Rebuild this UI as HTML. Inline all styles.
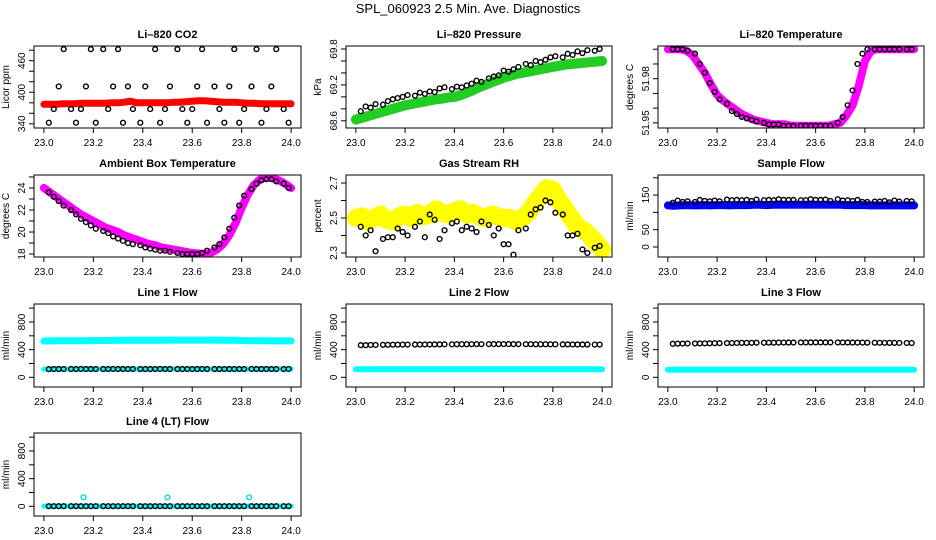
<!DOCTYPE html>
<html><head><meta charset="utf-8"><style>
body{margin:0;background:#fff}
svg{display:block;font-family:"Liberation Sans",sans-serif}
</style></head><body>
<svg id="chart" width="936" height="540" viewBox="0 0 936 540" xmlns="http://www.w3.org/2000/svg">
<text x="468" y="13" text-anchor="middle" font-size="13">SPL_060923  2.5 Min. Ave. Diagnostics</text>
</svg>
<script>
// shared x grids
const bandX = [23.0,23.025,23.05,23.075,23.1,23.125,23.15,23.175,23.2,23.225,23.25,23.275,23.3,23.325,23.35,23.375,23.4,23.425,23.45,23.475,23.5,23.525,23.55,23.575,23.6,23.625,23.65,23.675,23.7,23.725,23.75,23.775,23.8,23.825,23.85,23.875,23.9,23.925,23.95,23.975,24.0];
const ptX = [23.02,23.04,23.06,23.08,23.11,23.13,23.15,23.17,23.19,23.21,23.24,23.26,23.28,23.30,23.32,23.34,23.36,23.39,23.41,23.43,23.45,23.47,23.49,23.51,23.54,23.56,23.58,23.60,23.62,23.64,23.66,23.69,23.71,23.73,23.75,23.77,23.79,23.81,23.84,23.86,23.88,23.90,23.92,23.94,23.97,23.99];
const xTicks = [23.0,23.2,23.4,23.6,23.8,24.0];
const xTickLabels = ["23.0","23.2","23.4","23.6","23.8","24.0"];

const co2Band = [377,377,377,378,378,378,379,379,379,379,379,380,380,381,383,380,380,380,380,380,380,381,381,382,383,384,384,383,382,381,381,381,380,379,379,378,378,378,378,378,378];
const co2Pts = [342,368,411,482,368,342,368,411,482,342,482,368,411,482,342,411,368,342,411,368,482,342,368,411,482,368,342,368,411,482,342,411,368,342,411,482,342,368,411,482,342,368,411,482,368,342];
const presBand = [68.62,68.65,68.68,68.71,68.74,68.77,68.80,68.83,68.86,68.88,68.90,68.92,68.94,68.96,68.97,68.99,69.00,69.03,69.07,69.11,69.16,69.20,69.24,69.28,69.32,69.35,69.38,69.40,69.42,69.44,69.46,69.48,69.50,69.52,69.54,69.55,69.56,69.57,69.58,69.59,69.60];
const presPts = [68.76,68.84,68.82,68.88,68.87,68.93,68.96,68.98,69.00,69.03,69.02,69.07,69.05,69.09,69.08,69.14,69.16,69.13,69.17,69.16,69.19,69.22,69.27,69.25,69.31,69.34,69.36,69.44,69.42,69.46,69.50,69.55,69.53,69.60,69.58,69.62,69.66,69.68,69.66,69.72,69.70,69.76,69.73,69.78,69.77,69.80];
const ltBand = [52.0,52.0,52.0,51.999,51.996,51.99,51.984,51.976,51.969,51.965,51.962,51.959,51.956,51.954,51.952,51.951,51.950,51.949,51.949,51.949,51.948,51.948,51.948,51.948,51.948,51.948,51.948,51.949,51.950,51.955,51.962,51.975,51.992,51.999,52.0,52.0,52.0,52.0,52.0,52.0,52.0];
const ltPts = [52.0,52.0,52.0,51.999,51.997,51.99,51.984,51.977,51.971,51.966,51.963,51.958,51.956,51.954,51.953,51.952,51.951,51.950,51.949,51.949,51.949,51.948,51.948,51.948,51.948,51.948,51.948,51.948,51.948,51.948,51.948,51.950,51.954,51.962,51.972,51.990,51.997,52.0,52.0,52.0,52.0,52.0,52.0,52.0,52.0,52.0];
const ambBand = [24.0,23.6,23.2,22.8,22.4,22.0,21.6,21.3,21.0,20.7,20.4,20.2,20.0,19.7,19.5,19.3,19.1,18.9,18.8,18.6,18.5,18.4,18.3,18.2,18.1,18.05,18.0,18.1,18.4,18.9,19.7,20.8,22.2,23.4,24.3,24.8,25.0,24.9,24.7,24.4,24.0];
const ambPts = [23.6,23.2,22.8,22.4,22.0,21.6,21.2,20.9,20.6,20.3,20.1,19.9,19.6,19.4,19.2,19.0,18.9,18.8,18.6,18.5,18.4,18.3,18.3,18.2,18.1,18.0,18.0,18.0,18.0,18.1,18.3,18.6,18.9,19.5,20.3,21.3,22.4,23.3,23.9,24.4,24.7,24.8,24.8,24.6,24.4,24.0];
const rhBand = [2.50,2.51,2.48,2.50,2.52,2.49,2.48,2.51,2.52,2.50,2.53,2.51,2.52,2.55,2.53,2.52,2.54,2.55,2.52,2.53,2.51,2.50,2.52,2.51,2.50,2.50,2.48,2.50,2.53,2.58,2.63,2.67,2.66,2.60,2.55,2.50,2.45,2.43,2.40,2.36,2.32];
const rhPts = [2.45,2.40,2.43,2.31,2.38,2.39,2.39,2.44,2.42,2.40,2.45,2.48,2.39,2.52,2.49,2.38,2.43,2.47,2.48,2.43,2.45,2.44,2.42,2.48,2.46,2.40,2.44,2.35,2.35,2.29,2.43,2.44,2.52,2.55,2.56,2.60,2.59,2.53,2.52,2.40,2.40,2.41,2.32,2.30,2.33,2.34];
const sfBand = [120,119,120,121,120,120,121,120,121,121,120,121,121,121,122,122,121,122,122,122,122,122,122,122,122,122,122,122,122,121,121,121,121,120,120,120,120,120,120,120,120];
const sfPts = [128,134,130,132,130,136,133,132,134,132,137,135,136,135,136,133,137,135,136,135,138,136,136,136,135,135,138,136,136,137,133,138,134,135,133,136,130,130,131,131,133,129,134,131,133,132];
const l1Cyan = [525,527,528,528,529,530,530,531,531,532,533,534,535,535,536,536,537,537,537,537,538,538,538,538,538,538,538,538,538,537,536,535,532,530,529,528,528,527,527,527,527];
const l1Low = [118,118,120,120,120,120,120,120,120,120,120,120,120,120,120,120,120,120,120,120,120,120,120,120,120,120,120,120,120,120,120,120,120,120,120,120,120,120,120,120,120];
const l1Pts = [118,120,120,120,120,120,121,120,120,120,120,120,121,120,120,120,120,120,120,120,120,121,120,120,120,120,120,120,120,121,120,120,120,120,120,120,120,120,121,120,120,120,120,120,120,121];
const l2Cyan = [118,118,118,118,118,118,118,118,118,118,118,118,118,118,118,118,118,118,118,118,118,118,118,118,118,118,118,118,118,118,118,118,118,118,118,118,118,118,118,118,118];
const l2Pts = [465,465,468,468,470,470,472,472,473,473,474,474,475,475,476,476,477,477,478,478,478,479,479,479,480,480,480,480,480,480,479,479,479,478,478,478,477,477,476,476,475,475,474,474,473,473];
const l3Cyan = [110,110,110,110,110,110,110,110,110,110,110,110,110,110,110,110,110,110,110,110,110,110,110,110,110,110,110,110,110,110,110,110,110,110,110,110,110,110,110,110,110];
const l3Pts = [485,487,488,489,490,490,491,492,493,494,495,496,497,498,498,499,500,500,501,501,502,502,503,503,504,504,505,505,505,505,505,504,504,503,503,502,502,501,500,499,499,498,498,497,497,496];
const l4Cyan = [3,3,3,3,3,3,3,3,3,3,3,3,3,3,3,3,3,3,3,3,3,3,3,3,3,3,3,3,3,3,3,3,3,3,3,3,3,3,3,3,3];
const l4Pts = [2,2,2,2,2,2,2,2,2,2,2,2,2,2,2,2,2,2,2,2,2,2,2,2,2,2,2,2,2,2,2,2,2,2,2,2,2,2,2,2,2,2,2,2,2,2];
const l4SpikeX = [23.16,23.5,23.83];
const l4SpikeY = [130,130,130];

const NS = "http://www.w3.org/2000/svg";
const svg = document.getElementById('chart');
const cols = [[34,301],[346,612],[658,924]];
const rows = [[46,128],[175,257],[304,387],[433,516]];

function mk(tag, attrs, parent){
  const e = document.createElementNS(NS, tag);
  for (const k in attrs) e.setAttribute(k, attrs[k]);
  (parent||svg).appendChild(e);
  return e;
}

function panel(cfg){
  const [L,R] = cols[cfg.c], [T,B] = rows[cfg.r];
  const g = mk('g', {});
  
  
  const xs = v => L + (v - 22.96) / 1.08 * (R - L);
  const ys = v => B - (v - cfg.ymin) / (cfg.ymax - cfg.ymin) * (B - T);
  const t = mk('text', {x:(L+R)/2, y:T-8, 'text-anchor':'middle', 'font-size':11, 'font-weight':'bold'}, g);
  t.textContent = cfg.title;
  
  
  const yt = mk('text', {x:0, y:0, 'text-anchor':'middle', 'font-size':10, transform:`translate(${L-25},${(T+B)/2}) rotate(-90)`}, g);
  yt.textContent = cfg.ylab;
  
  
  // plot marks clipped
  const clipId = 'clip' + cfg.r + cfg.c;
  const cp = mk('clipPath', {id:clipId}, g);
  mk('rect', {x:L, y:T, width:R-L, height:B-T}, cp);
  const pg = mk('g', {'clip-path':`url(#${clipId})`}, g);
  (cfg.bands||[]).forEach(b => {
    const pts = b.vals.map((v,i)=> xs(bandX[i]).toFixed(1)+','+ys(v).toFixed(1)).join(' ');
    const pl = mk('polyline', {points:pts, fill:'none', stroke:b.color, 'stroke-width':b.w, 'stroke-linejoin':'round', 'stroke-linecap':'round'}, pg);
    
    
  });
  (cfg.cpts||[]).forEach(s => {
    s.ys.forEach((v,i)=>{
      const c = mk('circle', {cx:xs(s.xs[i]), cy:ys(v), r:2.4, fill:'none', stroke:s.color, 'stroke-width':1.4}, pg);
      
      
    });
  });
  if (cfg.pts) cfg.pts.forEach((v,i)=>{
    const c = mk('circle', {cx:xs(ptX[i]), cy:ys(v), r:2.4, fill:'none', stroke:'#000', 'stroke-width':1.4}, pg);
    
    
  });
  mk('rect', {x:L, y:T, width:R-L, height:B-T, fill:'none', stroke:'#000', 'stroke-width':1}, g);
  // y axis
  cfg.yt.forEach(v=>{
    const y = ys(v);
    mk('line', {x1:L-5, x2:L, y1:y, y2:y, stroke:'#000'}, g);
  });
  cfg.yl.forEach(v=>{
    const lb = mk('text', {x:0,y:0,'text-anchor':'middle','font-size':10, transform:`translate(${L-9},${ys(v)}) rotate(-90)`}, g);
    lb.textContent = String(v);
    
    
  });
  xTicks.forEach((v,i)=>{
    const x = xs(v);
    mk('line', {x1:x, x2:x, y1:B, y2:B+5, stroke:'#000'}, g);
    const lb = mk('text', {x:x, y:B+18, 'text-anchor':'middle', 'font-size':10}, g);
    lb.textContent = xTickLabels[i];
    
    
  });
}

panel({name:'co2-panel', r:0,c:0, title:'Li\u2013820 CO2', ylab:'Licor ppm', ymin:332, ymax:488,
  yt:[340,360,380,400,420,440,460,480], yl:[340,400,460],
  bands:[{vals:co2Band,color:'#ff0000',w:7,name:'co2-band'}], pts:co2Pts});
panel({name:'pressure-panel', r:0,c:1, title:'Li\u2013820 Pressure', ylab:'kPa', ymin:68.48, ymax:69.85,
  yt:[68.6,68.8,69.0,69.2,69.4,69.6,69.8], yl:[68.6,69.2,69.8],
  bands:[{vals:presBand,color:'#22cc22',w:10,name:'pressure-band'}], pts:presPts});
panel({name:'li-temp-panel', r:0,c:2, title:'Li\u2013820 Temperature', ylab:'degrees C', ymin:51.9465, ymax:52.0022,
  yt:[51.95,51.96,51.97,51.98,51.99,52.0], yl:[51.95,51.98],
  bands:[{vals:ltBand,color:'#ff00ff',w:8,name:'li-temp-band'}], pts:ltPts});
panel({name:'ambient-panel', r:1,c:0, title:'Ambient Box Temperature', ylab:'degrees C', ymin:17.73, ymax:25.18,
  yt:[18,19,20,21,22,23,24,25], yl:[18,20,22,24],
  bands:[{vals:ambBand,color:'#ff00ff',w:8,name:'ambient-band'}], pts:ambPts});
panel({name:'rh-panel', r:1,c:1, title:'Gas Stream RH', ylab:'percent', ymin:2.277, ymax:2.746,
  yt:[2.3,2.4,2.5,2.6,2.7], yl:[2.3,2.5,2.7],
  bands:[{vals:rhBand,color:'#ffff00',w:18,name:'rh-band'}], pts:rhPts});
panel({name:'sample-flow-panel', r:1,c:2, title:'Sample Flow', ylab:'ml/min', ymin:-29, ymax:208,
  yt:[0,50,100,150,200], yl:[0,50,150],
  bands:[{vals:sfBand,color:'#0000ff',w:8,name:'sample-flow-band'}], pts:sfPts});
panel({name:'line1-panel', r:2,c:0, title:'Line 1 Flow', ylab:'ml/min', ymin:-140, ymax:1060,
  yt:[0,200,400,600,800,1000], yl:[0,400,800],
  bands:[{vals:l1Cyan,color:'#00ffff',w:7,name:'line1-cyan-band'},{vals:l1Low,color:'#00ffff',w:5,name:'line1-low-band'}], pts:l1Pts});
panel({name:'line2-panel', r:2,c:1, title:'Line 2 Flow', ylab:'ml/min', ymin:-140, ymax:1060,
  yt:[0,200,400,600,800,1000], yl:[0,400,800],
  bands:[{vals:l2Cyan,color:'#00ffff',w:6,name:'line2-cyan-band'}], pts:l2Pts});
panel({name:'line3-panel', r:2,c:2, title:'Line 3 Flow', ylab:'ml/min', ymin:-140, ymax:1060,
  yt:[0,200,400,600,800,1000], yl:[0,400,800],
  bands:[{vals:l3Cyan,color:'#00ffff',w:6,name:'line3-cyan-band'}], pts:l3Pts});
panel({name:'line4-panel', r:3,c:0, title:'Line 4 (LT) Flow', ylab:'ml/min', ymin:-140, ymax:1060,
  yt:[0,200,400,600,800,1000], yl:[0,400,800],
  bands:[{vals:l4Cyan,color:'#00ffff',w:5,name:'line4-cyan-band'}],
  cpts:[{xs:l4SpikeX, ys:l4SpikeY, color:'#00dddd', name:'line4-spike'}], pts:l4Pts});
</script>
</body></html>
